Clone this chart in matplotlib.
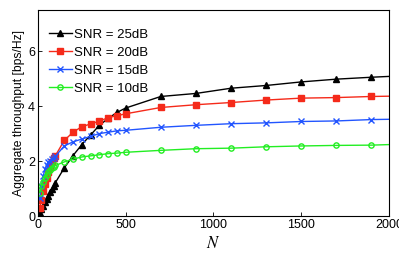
import numpy as np
import matplotlib
matplotlib.use('Agg')
import matplotlib.pyplot as plt

plt.rcParams['font.family'] = ['Liberation Sans', 'DejaVu Sans']
plt.rcParams['mathtext.fontset'] = 'stix'

N = [10, 20, 30, 40, 50, 60, 70, 80, 90, 100, 150, 200, 250, 300, 350, 400,
     450, 500, 700, 900, 1100, 1300, 1500, 1700, 1900, 2000]

snr25 = [0.12, 0.25, 0.37, 0.5, 0.62, 0.74, 0.86, 0.98, 1.1, 1.22, 1.75, 2.2,
         2.6, 2.95, 3.3, 3.55, 3.77, 3.93, 4.35, 4.46, 4.65, 4.75, 4.88, 4.98,
         5.05, 5.08]
snr20 = [0.3, 0.6, 0.9, 1.15, 1.4, 1.6, 1.8, 1.95, 2.1, 2.2, 2.75, 3.05,
         3.25, 3.35, 3.45, 3.58, 3.65, 3.72, 3.95, 4.05, 4.13, 4.22, 4.29, 4.31,
         4.35, 4.36]
snr15 = [0.65, 1.1, 1.45, 1.7, 1.85, 1.95, 2.02, 2.08, 2.13, 2.18, 2.55, 2.7,
         2.8, 2.9, 3.0, 3.05, 3.1, 3.12, 3.23, 3.3, 3.36, 3.39, 3.44, 3.46,
         3.51, 3.52]
snr10 = [0.85, 1.1, 1.25, 1.4, 1.5, 1.6, 1.68, 1.74, 1.8, 1.84, 1.97, 2.07,
         2.15, 2.19, 2.23, 2.27, 2.29, 2.32, 2.39, 2.45, 2.47, 2.52, 2.55, 2.57,
         2.58, 2.6]

labels = ['SNR = 25dB', 'SNR = 20dB', 'SNR = 15dB', 'SNR = 10dB']

fig = plt.figure(figsize=(3.99, 2.60), dpi=100)
ax = fig.add_axes([0.095, 0.169, 0.880, 0.793])

mk = list(range(len(N) - 1))  # no marker on the last point (edge)
ax.plot(N, snr25, color='k', lw=1, marker='^', ms=4, markevery=mk, label=labels[0])
ax.plot(N, snr20, color='#f52a1a', lw=1, marker='s', ms=3.8, markevery=mk, label=labels[1])
ax.plot(N, snr15, color='#2255ff', lw=1, marker='x', ms=4, mew=1, markevery=mk, label=labels[2])
ax.plot(N, snr10, color='#22ee22', lw=1, marker='o', ms=3.8, mfc='none', mew=1,
        markevery=mk, label=labels[3])

ax.set_xlim(0, 2000)
ax.set_ylim(0, 7.5)
ax.set_xticks([0, 500, 1000, 1500, 2000])
ax.set_yticks([0, 2, 4, 6])
ax.tick_params(direction='in', labelsize=9, length=3, width=0.6, pad=2)
for s in ax.spines.values():
    s.set_linewidth(0.8)

ax.set_xlabel('$N$', fontsize=12, labelpad=3)
ax.set_ylabel('Aggregate throughput [bps/Hz]', fontsize=8.7, labelpad=2)

ax.legend(loc='upper left', frameon=False, fontsize=9.5, handlelength=1.7,
          handletextpad=0.15, labelspacing=0.45, borderaxespad=0.45,
          borderpad=0.4, bbox_to_anchor=(0.0, 0.965))

fig.savefig('out.png', dpi=100)
